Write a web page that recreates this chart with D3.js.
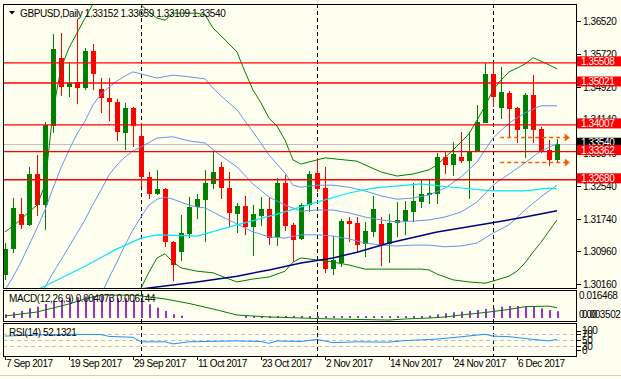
<!DOCTYPE html>
<html>
<head>
<meta charset="utf-8">
<script src="https://cdn.jsdelivr.net/npm/d3@7"></script>
<style>
  body { margin: 0; background: #fffff0; }
  svg { display: block; font-family: "Liberation Sans", Arial, sans-serif; }
</style>
</head>
<body>
<script>
// trading days shown on the chart
var dates = [
  "2017-09-07","2017-09-08","2017-09-11","2017-09-12","2017-09-13","2017-09-14","2017-09-15","2017-09-18","2017-09-19","2017-09-20",
  "2017-09-21","2017-09-22","2017-09-25","2017-09-26","2017-09-27","2017-09-28","2017-09-29","2017-10-02","2017-10-03","2017-10-04",
  "2017-10-05","2017-10-06","2017-10-09","2017-10-10","2017-10-11","2017-10-12","2017-10-13","2017-10-16","2017-10-17","2017-10-18",
  "2017-10-19","2017-10-20","2017-10-23","2017-10-24","2017-10-25","2017-10-26","2017-10-27","2017-10-30","2017-10-31","2017-11-01",
  "2017-11-02","2017-11-03","2017-11-06","2017-11-07","2017-11-08","2017-11-09","2017-11-10","2017-11-13","2017-11-14","2017-11-15",
  "2017-11-16","2017-11-17","2017-11-20","2017-11-21","2017-11-22","2017-11-23","2017-11-24","2017-11-27","2017-11-28","2017-11-29",
  "2017-11-30","2017-12-01","2017-12-04","2017-12-05","2017-12-06","2017-12-07","2017-12-08","2017-12-11","2017-12-12","2017-12-13"
];

var open = [1.3038,1.3101,1.3185,1.3159,1.3282,1.3207,1.3398,1.3563,1.3492,1.3505,
  1.3490,1.3579,1.3488,1.3466,1.3456,1.3381,1.3442,1.3374,1.3275,1.3234,
  1.3246,1.3118,1.3093,1.3137,1.3202,1.3219,1.3258,1.3299,1.3248,1.3185,
  1.3205,1.3154,1.3180,1.3197,1.3130,1.3260,1.3159,1.3125,1.3207,1.3284,
  1.3248,1.3052,1.3067,1.3168,1.3164,1.3113,1.3142,1.3161,1.3113,1.3164,
  1.3166,1.3190,1.3214,1.3231,1.3234,1.3323,1.3304,1.3323,1.3313,1.3335,
  1.3405,1.3524,1.3442,1.3478,1.3442,1.3391,1.3473,1.3391,1.3340,1.33152];
var high = [1.3115,1.3224,1.3224,1.3299,1.3328,1.3408,1.3621,1.3623,1.3550,1.3657,
  1.3587,1.3596,1.3514,1.3514,1.3463,1.3454,1.3444,1.3405,1.3287,1.3292,
  1.3248,1.3120,1.3183,1.3226,1.3234,1.3292,1.3338,1.3311,1.3287,1.3212,
  1.3229,1.3207,1.3226,1.3226,1.3272,1.3280,1.3164,1.3212,1.3289,1.3321,
  1.3299,1.3132,1.3173,1.3178,1.3178,1.3166,1.3229,1.3178,1.3185,1.3214,
  1.3217,1.3260,1.3268,1.3268,1.3333,1.3335,1.3359,1.3384,1.3384,1.3449,
  1.3550,1.3550,1.3541,1.3483,1.3444,1.3478,1.3521,1.3396,1.3364,1.33659];
var low = [1.3026,1.3091,1.3149,1.3156,1.3180,1.3147,1.3381,1.3471,1.3468,1.3451,
  1.3485,1.3485,1.3430,1.3410,1.3362,1.3340,1.3347,1.3251,1.3222,1.3231,
  1.3105,1.3023,1.3072,1.3127,1.3173,1.3118,1.3246,1.3222,1.3154,1.3139,
  1.3135,1.3084,1.3156,1.3110,1.3108,1.3144,1.3069,1.3122,1.3190,1.3238,
  1.3043,1.3038,1.3057,1.3118,1.3093,1.3081,1.3130,1.3060,1.3067,1.3130,
  1.3135,1.3166,1.3200,1.3209,1.3209,1.3282,1.3277,1.3309,1.3222,1.3335,
  1.3405,1.3444,1.3415,1.3372,1.3357,1.3321,1.3357,1.3333,1.3301,1.33109];
var close = [1.3101,1.3200,1.3159,1.3282,1.3207,1.3400,1.3584,1.3492,1.3502,1.3490,
  1.3579,1.3524,1.3466,1.3456,1.3384,1.3442,1.3398,1.3275,1.3234,1.3246,
  1.3118,1.3062,1.3139,1.3202,1.3222,1.3260,1.3287,1.3248,1.3188,1.3205,
  1.3154,1.3185,1.3197,1.3127,1.3260,1.3156,1.3122,1.3207,1.3282,1.3246,
  1.3052,1.3074,1.3168,1.3161,1.3110,1.3144,1.3197,1.3110,1.3164,1.3171,
  1.3195,1.3217,1.3234,1.3236,1.3323,1.3304,1.3330,1.3313,1.3338,1.3408,
  1.3524,1.3468,1.3480,1.3439,1.3388,1.3473,1.3388,1.3338,1.3315,1.33540];

// indicator lines: [bar index, value]
var bbOuterUpper = [[0,1.3142],[1,1.3156],[3,1.3190],[4,1.3207],[5,1.3255],[6,1.3434],[7,1.3538],[8,1.3587],[9,1.3623],
  [10,1.3659],[11,1.3693],[13,1.3722],[15,1.3715],[17,1.3691],[18,1.3674],[19,1.3659],[20,1.3654],[21,1.3671],[24,1.3671],
  [25,1.3667],[26,1.3635],[27,1.3616],[29,1.3577],[30,1.3529],[31,1.3485],[32,1.3454],[33,1.3417],[34,1.3398],[35,1.3364],
  [36,1.3316],[37,1.3306],[38,1.3311],[40,1.3321],[44,1.3313],[45,1.3304],[47,1.3287],[49,1.3277],[51,1.3282],[52,1.3287],
  [53,1.3292],[54,1.3304],[56,1.3340],[58,1.3379],[60,1.3446],[61,1.3485],[62,1.3509],[63,1.3529],[64,1.3538],[65,1.3548],
  [66,1.3563],[67,1.3555],[68,1.3546],[69,1.3536]];
var bbOuterLower = [[16,1.2953],[17,1.3006],[18,1.3045],[19,1.3079],[20,1.3089],[21,1.3069],[22,1.3055],[24,1.3047],[26,1.3043],
  [28,1.3028],[29,1.3021],[31,1.3028],[33,1.3033],[35,1.3047],[36,1.3069],[37,1.3079],[39,1.3074],[41,1.3069],[43,1.3062],
  [45,1.3052],[52,1.3052],[53,1.3050],[54,1.3040],[56,1.3026],[58,1.3021],[60,1.3018],[61,1.3023],[63,1.3035],[64,1.3047],
  [65,1.3067],[66,1.3093],[67,1.3117],[68,1.3144],[69,1.3171]];
var bbInnerUpper = [[0,1.3001],[1,1.3033],[2,1.3069],[3,1.3110],[4,1.3151],[5,1.3195],[6,1.3248],[7,1.3297],[8,1.3340],
  [9,1.3379],[10,1.3410],[11,1.3449],[12,1.3475],[13,1.3492],[14,1.3507],[15,1.3519],[16,1.3529],[17,1.3524],[19,1.3514],
  [21,1.3521],[23,1.3517],[25,1.3512],[26,1.3490],[27,1.3471],[29,1.3437],[30,1.3410],[31,1.3384],[33,1.3328],[35,1.3284],
  [36,1.3255],[37,1.3250],[39,1.3255],[41,1.3255],[43,1.3250],[45,1.3241],[47,1.3229],[49,1.3221],[51,1.3224],[53,1.3231],
  [55,1.3248],[57,1.3275],[59,1.3311],[61,1.3369],[63,1.3405],[65,1.3430],[67,1.3447],[69,1.3447]];
var bbMiddle = [[0,1.2905],[4,1.2977],[5,1.3009],[6,1.3043],[7,1.3074],[8,1.3106],[9,1.3139],[10,1.3171],[11,1.3209],
  [12,1.3243],[13,1.3280],[14,1.3304],[15,1.3323],[16,1.3338],[17,1.3347],[19,1.3369],[21,1.3372],[23,1.3362],[25,1.3357],
  [27,1.3326],[29,1.3299],[31,1.3258],[33,1.3226],[35,1.3207],[37,1.3192],[39,1.3195],[41,1.3195],[43,1.3188],[45,1.3178],
  [47,1.3171],[49,1.3166],[51,1.3168],[53,1.3171],[55,1.3178],[57,1.3190],[59,1.3214],[61,1.3255],[63,1.3282],[65,1.3309],
  [67,1.3338],[69,1.3355]];
var bbInnerLower = [[11,1.2948],[12,1.2989],[13,1.3031],[14,1.3069],[15,1.3110],[16,1.3147],[17,1.3178],[18,1.3207],
  [19,1.3221],[20,1.3226],[21,1.3221],[22,1.3214],[23,1.3207],[24,1.3202],[25,1.3200],[27,1.3180],[29,1.3161],[31,1.3142],
  [33,1.3130],[35,1.3127],[37,1.3135],[39,1.3135],[41,1.3132],[43,1.3125],[45,1.3115],[47,1.3110],[49,1.3108],[51,1.3110],
  [53,1.3110],[55,1.3106],[57,1.3108],[59,1.3115],[61,1.3139],[63,1.3159],[65,1.3195],[67,1.3227],[68,1.3241],[69,1.3255]];
var maFast = [[0,1.2965],[5,1.3011],[10,1.3059],[14,1.3101],[17,1.3127],[19,1.3135],[24,1.3132],[29,1.3159],[34,1.3185],
  [39,1.3214],[43,1.3236],[46,1.3248],[52,1.3258],[56,1.3250],[61,1.3241],[65,1.3241],[68,1.3248],[69,1.3246]];
var maSlow = [[14,1.2987],[17,1.3004],[24,1.3021],[29,1.3035],[33,1.3050],[37,1.3067],[41,1.3079],[44,1.3093],[48,1.3115],
  [54,1.3142],[60,1.3161],[65,1.3178],[69,1.3193]];

var macdMain = [0.0022,0.0034,0.0042,0.0058,0.0068,0.0084,0.0096,0.0108,0.0118,0.0124,
  0.0128,0.0132,0.0132,0.0128,0.0118,0.0118,0.0108,0.0098,0.0082,0.0062,
  0.0042,0.0022,0.0014,0,0,0,0,0,0,0,
  0.0012,0.0012,0.0012,0.0012,0.0012,0.0012,0.0012,0.0012,0.0012,0.0012,
  0.0012,0.0012,0.0012,0.0012,0.0012,0.0012,0.0012,0.0012,0.0012,0.0012,
  0.0012,0.0012,0.0012,0.0014,0.0022,0.0028,0.0034,0.0038,0.0042,0.0048,
  0.0054,0.0058,0.0068,0.0072,0.0072,0.0072,0.0068,0.0058,0.0048,0.004073];
var macdSignal = [[0,0.0012],[4,0.0036],[8,0.0084],[10,0.0114],[12,0.0137],[16,0.0137],[17,0.0132],[20,0.0114],[23,0.0087],
  [26,0.0054],[29,0.0018],[33,0.0006],[37,0],[41,-0.0006],[48,-0.0012],[50,-0.0006],[53,0],[55,0.0006],[57,0.0018],
  [60,0.0033],[63,0.0051],[65,0.0068],[68,0.0071],[69,0.006144]];
var rsi = [[0,63],[4,67],[8,69],[12,68],[13,62],[16,59],[17,44],[20,44],[21,37],[23,44],[29,47],[32,45],[33,39],[34,47],
  [37,45],[39,52],[41,41],[44,44],[48,43],[50,48],[54,53],[56,58],[60,69],[61,63],[63,61],[66,52],[68,47],[69,52.1321]];

var levels = [1.35508, 1.35021, 1.34007, 1.33362, 1.32680];
var priceTicks = [1.3652, 1.3572, 1.3492, 1.3414, 1.3334, 1.3254, 1.3174, 1.3096, 1.3016];
var rsiLevels = [70, 50, 30];
var rsiTicks = [100, 70, 50, 30, 0];
var arrowLevels = [1.3371, 1.3310];
var arrowFrom = 61.9, arrowTo = 70.6;

var W = 621, H = 379;
var left = 3, right = 576;
var mainTop = 4, mainBottom = 288, macdTop = 290, macdBottom = 321, rsiTop = 323, rsiBottom = 356;

var x = d3.scaleLinear().domain([0, 69]).range([5, 557]);
var y = d3.scaleLinear().domain([1.3016, 1.3652]).range([284, 21]);
var yMacd = d3.scaleLinear().domain([0, 0.016468]).range([318, 290.5]);
var yRsi = d3.scaleLinear().domain([30, 70]).range([346, 334]);

var parseDate = d3.timeParse("%Y-%m-%d");
var fmtDate = d3.timeFormat("%-d %b %Y");
var days = dates.map(parseDate);
var f5 = d3.format(".5f");

var svg = d3.select("body").append("svg").attr("width", W).attr("height", H);
svg.append("rect").attr("width", W).attr("height", H).attr("fill", "#fffff0");

var defs = svg.append("defs");
[["clipMain", mainTop, mainBottom], ["clipMacd", macdTop, macdBottom], ["clipRsi", rsiTop, rsiBottom]].forEach(function(c) {
  defs.append("clipPath").attr("id", c[0]).append("rect")
    .attr("x", left).attr("y", c[1]).attr("width", right - left).attr("height", c[2] - c[1]);
});

// period separators (month starts)
var sepIdx = d3.range(1, days.length).filter(function(i) { return days[i].getMonth() != days[i - 1].getMonth(); });
svg.append("g").selectAll("line").data(sepIdx).join("line")
  .attr("x1", function(i) { return Math.round(x(i)) + 0.5; })
  .attr("x2", function(i) { return Math.round(x(i)) + 0.5; })
  .attr("y1", mainTop).attr("y2", rsiBottom)
  .attr("stroke", "#000").attr("stroke-dasharray", "4,3");

// main panel
var main = svg.append("g").attr("clip-path", "url(#clipMain)");

// bid line
main.append("line").attr("x1", left).attr("x2", right)
  .attr("y1", Math.round(y(close[69])) + 0.5).attr("y2", Math.round(y(close[69])) + 0.5)
  .attr("stroke", "#c0c0c0");

// candles
var bars = d3.range(open.length);
var candle = main.append("g").selectAll("g").data(bars).join("g")
  .attr("fill", function(i) { return close[i] >= open[i] ? "#008000" : "#ff0000"; })
  .attr("stroke", function(i) { return close[i] >= open[i] ? "#008000" : "#ff0000"; });
candle.append("line")
  .attr("x1", function(i) { return Math.round(x(i)) + 0.5; })
  .attr("x2", function(i) { return Math.round(x(i)) + 0.5; })
  .attr("y1", function(i) { return Math.round(y(high[i])); })
  .attr("y2", function(i) { return Math.round(y(low[i])); });
candle.append("rect")
  .attr("stroke", "none")
  .attr("x", function(i) { return Math.round(x(i)) - 2; })
  .attr("width", 5)
  .attr("y", function(i) { return Math.round(y(Math.max(open[i], close[i]))); })
  .attr("height", function(i) { return Math.max(1, Math.round(y(Math.min(open[i], close[i]))) - Math.round(y(Math.max(open[i], close[i])))); });

// indicators
var priceLine = d3.line().x(function(d) { return x(d[0]); }).y(function(d) { return y(d[1]); });
[[bbOuterUpper, "#008000", 1], [bbOuterLower, "#008000", 1],
 [bbInnerUpper, "#6495ed", 1], [bbMiddle, "#6495ed", 1], [bbInnerLower, "#6495ed", 1],
 [maFast, "#00e8f8", 1.2], [maSlow, "#000080", 1.5]].forEach(function(s) {
  main.append("path").datum(s[0]).attr("d", priceLine)
    .attr("fill", "none").attr("stroke", s[1]).attr("stroke-width", s[2]);
});

// horizontal levels
main.append("g").selectAll("line").data(levels).join("line")
  .attr("x1", left).attr("x2", right)
  .attr("y1", function(d) { return y(d); }).attr("y2", function(d) { return y(d); })
  .attr("stroke", "#ff0000").attr("stroke-width", 1.4);

// dashed arrows
var arrows = svg.append("g").attr("stroke", "#ff5a00").attr("fill", "#ff5a00");
arrowLevels.forEach(function(p) {
  var yy = Math.round(y(p)) + 0.5;
  arrows.append("line").attr("x1", x(arrowFrom)).attr("x2", x(arrowTo) - 4)
    .attr("y1", yy).attr("y2", yy).attr("stroke-dasharray", "4,3").attr("stroke-width", 1.3);
  arrows.append("path").attr("stroke", "none")
    .attr("d", "M" + (x(arrowTo) - 5) + "," + (yy - 4) + "L" + x(arrowTo) + "," + yy + "L" + (x(arrowTo) - 5) + "," + (yy + 4) + "Z");
});

// MACD panel
var macdG = svg.append("g").attr("clip-path", "url(#clipMacd)");
macdG.append("g").selectAll("rect").data(bars).join("rect")
  .attr("x", function(i) { return Math.round(x(i)); })
  .attr("width", 2)
  .attr("y", function(i) { return Math.min(yMacd(macdMain[i]), yMacd(0)); })
  .attr("height", function(i) { return Math.abs(yMacd(0) - yMacd(macdMain[i])); })
  .attr("fill", "#9932cc");
macdG.append("path").datum(macdSignal)
  .attr("d", d3.line().x(function(d) { return x(d[0]); }).y(function(d) { return yMacd(d[1]); }))
  .attr("fill", "none").attr("stroke", "#008000");

// RSI panel
var rsiG = svg.append("g").attr("clip-path", "url(#clipRsi)");
rsiG.selectAll("line").data(rsiLevels).join("line")
  .attr("x1", left).attr("x2", right)
  .attr("y1", function(d) { return Math.round(yRsi(d)) + 0.5; })
  .attr("y2", function(d) { return Math.round(yRsi(d)) + 0.5; })
  .attr("stroke", "#c0c0c0").attr("stroke-dasharray", "4,3");
rsiG.append("path").datum(rsi)
  .attr("d", d3.line().x(function(d) { return x(d[0]); }).y(function(d) { return yRsi(d[1]); }))
  .attr("fill", "none").attr("stroke", "#1e90ff");

// panel borders
[[mainTop, mainBottom], [macdTop, macdBottom], [rsiTop, rsiBottom]].forEach(function(p) {
  svg.append("rect").attr("x", left + 0.5).attr("y", p[0] + 0.5)
    .attr("width", right - left).attr("height", p[1] - p[0])
    .attr("fill", "none").attr("stroke", "#000");
});

// right price axis
var axisText = svg.append("g").attr("font-size", "10px").attr("letter-spacing", "-0.4px");
priceTicks.forEach(function(t) {
  var yy = Math.round(y(t)) + 0.5;
  axisText.append("line").attr("x1", right + 1).attr("x2", right + 5).attr("y1", yy).attr("y2", yy).attr("stroke", "#000");
  axisText.append("text").attr("x", right + 7).attr("y", yy + 3.5).attr("fill", "#000").text(f5(t));
});

// bid label, then level labels
function priceTag(p, bg) {
  var yy = y(p);
  axisText.append("rect").attr("x", right + 1).attr("y", yy - 6.5).attr("width", W - right - 1).attr("height", 10).attr("fill", bg);
  axisText.append("text").attr("x", right + 5).attr("y", yy + 2).attr("fill", "#fff").text(f5(p));
}
priceTag(close[69], "#000");
levels.forEach(function(p) { priceTag(p, "#ff0000"); });

// MACD axis labels
axisText.append("text").attr("x", right + 3).attr("y", 298.5).attr("fill", "#000").text("0.016468");
axisText.append("text").attr("x", right + 3).attr("y", 318).attr("fill", "#000").text("0.00");
axisText.append("text").attr("x", right + 6).attr("y", 318).attr("fill", "#000").text("0.003502");

// RSI axis labels
rsiTicks.forEach(function(t) {
  var yy = Math.max(330.5, Math.min(350, yRsi(t)));
  axisText.append("line").attr("x1", right + 1).attr("x2", right + 5)
    .attr("y1", Math.round(yy) + 0.5).attr("y2", Math.round(yy) + 0.5).attr("stroke", "#000");
  axisText.append("text").attr("x", right + 6).attr("y", yy + 3.5).attr("fill", "#000").text(t);
});

// date axis
var tickIdx = bars.filter(function(i) { return i % 8 == 0; });
var dateText = svg.append("g").attr("font-size", "10px").attr("letter-spacing", "-0.45px");
tickIdx.forEach(function(i) {
  dateText.append("line").attr("x1", Math.round(x(i)) + 0.5).attr("x2", Math.round(x(i)) + 0.5)
    .attr("y1", rsiBottom + 1).attr("y2", rsiBottom + 4).attr("stroke", "#000");
  dateText.append("text").attr("x", x(i) + 1).attr("y", 367).attr("fill", "#000").text(fmtDate(days[i]));
});

// titles
var titles = svg.append("g").attr("font-size", "10px").attr("letter-spacing", "-0.4px").attr("fill", "#000");
titles.append("path").attr("d", "M9,11L15,11L12,14.5Z");
titles.append("text").attr("x", 20).attr("y", 16.5)
  .text("GBPUSD,Daily " + [open[69], high[69], low[69], close[69]].map(f5).join(" "));
titles.append("text").attr("x", 9).attr("y", 301.5)
  .text("MACD(12,26,9) " + d3.format(".6f")(macdMain[69]) + " " + d3.format(".6f")(macdSignal[macdSignal.length - 1][1]));
titles.append("text").attr("x", 9).attr("y", 336)
  .text("RSI(14) " + d3.format(".4f")(rsi[rsi.length - 1][1]));

// window edge
svg.append("line").attr("x1", 0).attr("x2", W).attr("y1", 375.5).attr("y2", 375.5).attr("stroke", "#d4d0c8");
</script>
</body>
</html>
